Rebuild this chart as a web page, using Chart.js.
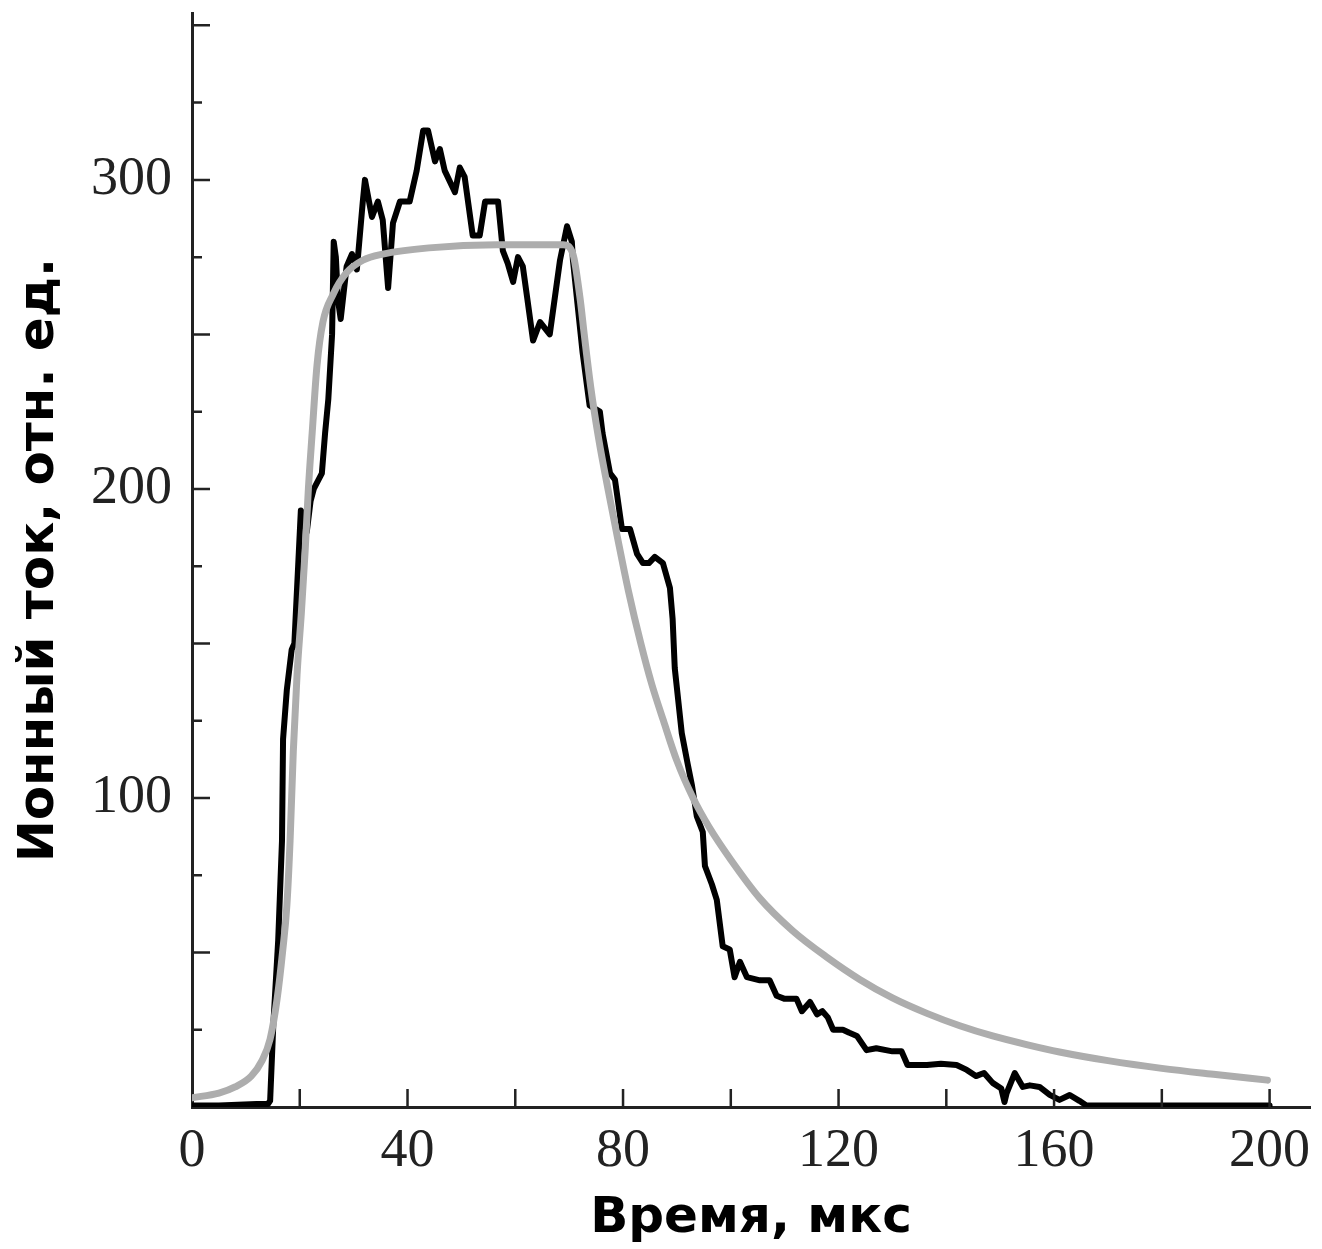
<!DOCTYPE html>
<html>
<head>
<meta charset="utf-8">
<script src="https://cdn.jsdelivr.net/npm/chart.js@4"></script>
<style>
  body { margin: 0; background: #fff; }
  #wrap { width: 1322px; height: 1249px; }
</style>
</head>
<body>
<div id="wrap"><canvas id="chartIon"></canvas></div>
<script>
// measured ion current (black)
let blackTime = [0, 5, 12, 14.1, 14.5, 15.1, 16, 16.7, 16.9, 17.6, 18.5, 19, 19.7, 20.2, 20.6, 21.3, 22, 22.6, 24.1, 24.7, 25.3, 26, 26.3, 26.7, 27.1, 27.6, 28.7, 29.7, 30.6, 31.7, 32.1, 33.4, 34.5, 35.4, 36.4, 37.3, 38.6, 40.4, 41.7, 42.9, 43.8, 45.1, 46, 46.9, 48.8, 49.7, 50.6, 52.1, 53.4, 54.4, 56.8, 57.7, 58.6, 59.6, 60.5, 61.4, 62.2, 63.3, 64.6, 66.4, 68.3, 69.6, 70.5, 70.7, 72.5, 73.8, 75.7, 76.2, 77.6, 78.5, 79.8, 81.3, 82.6, 83.7, 84.8, 85.9, 87.4, 88.7, 89.2, 89.6, 90.9, 92, 92.8, 93.7, 94.8, 95.2, 96.5, 97.4, 98.5, 99.8, 100.7, 101.7, 103, 105.4, 107.2, 108.5, 110, 112.2, 113.2, 114.7, 116, 117, 118, 119, 120.8, 122, 123.4, 125.2, 127, 130, 131.7, 132.8, 136.4, 139, 141.9, 143.8, 145.5, 147, 148.6, 150.2, 150.8, 151.2, 152.7, 154.2, 155.5, 157.3, 159.2, 161, 162.9, 164.7, 166, 200];
let blackValue = [0.5, 0.5, 1, 1, 2, 27, 54, 86, 119, 135, 148, 150, 175, 193, 192, 186, 196, 200, 205, 218, 229, 250, 280, 275, 261, 255, 272, 276, 271, 293, 300, 288, 293, 287, 265, 286, 293, 293, 303, 316, 316, 306, 310, 303, 296, 304, 301, 282, 282, 293, 293, 277, 273, 267, 275, 272, 262, 248, 254, 250, 274, 285, 280, 274, 244, 227, 225, 218, 205, 203, 187, 187, 179, 176, 176, 178, 176, 168, 158, 142, 121, 111, 104, 94, 89, 78, 72, 67, 52, 51, 42, 47, 42, 41, 41, 36, 35, 35, 31, 34, 30, 31, 29, 25, 25, 24, 23, 18.4, 19, 18, 18, 13.6, 13.6, 14, 13.6, 12, 10, 11, 7.8, 6, 1.6, 4.5, 11, 6.5, 7, 6.5, 3.9, 2.3, 3.9, 2, 0.5, 0.5];

// fitted curve (grey)
let fitTime = [0, 5, 8, 11, 13, 14.5, 15.8, 16.8, 17.6, 18.2, 18.8, 19.5, 20.3, 21, 21.6, 22.3, 23.2, 24.3, 26.2, 28.7, 31.7, 35.4, 44, 56.6, 68.9, 70.7, 72, 72.8, 74, 75.5, 77.2, 79, 81, 83.3, 85.3, 87.5, 90, 93, 96, 100, 105.4, 111.5, 117.8, 124, 130, 136.4, 142.5, 148.6, 154.9, 161, 170, 180, 190, 199.6];
let fitValue = [3, 4.5, 6.5, 10, 15, 22, 35, 50, 65, 86, 115, 140, 160, 180, 200, 218, 240, 254, 263, 270, 274, 276, 278, 279, 279, 276, 262, 250, 233, 216, 200, 184, 167, 150, 137, 125, 112, 100, 90.5, 80, 67.5, 57, 48.5, 41.2, 35.3, 30.3, 26.3, 23, 20.2, 17.8, 15, 12.5, 10.5, 8.7];

let xTicksLabelled = [0, 40, 80, 120, 160, 200];
let yTicksLabelled = [100, 200, 300];

let axisColor = '#222';
let serif = "'Liberation Serif', 'Times New Roman', serif";
let sans = "'DejaVu Sans', Verdana, sans-serif";

let toPoints = (xs, ys) => xs.map((x, i) => ({ x: x, y: ys[i] }));

// tick marks point inwards, so draw them ourselves from the scales
let innerTicks = {
  id: 'innerTicks',
  afterDraw(chart) {
    let ctx = chart.ctx, sx = chart.scales.x, sy = chart.scales.y;
    ctx.save();
    ctx.strokeStyle = axisColor;
    ctx.lineWidth = 2.5;
    ctx.beginPath();
    sx.ticks.forEach(t => {
      if (t.value === 0) return;
      let px = sx.getPixelForValue(t.value);
      ctx.moveTo(px, sy.bottom);
      ctx.lineTo(px, sy.bottom - 18);
    });
    sy.ticks.forEach(t => {
      if (t.value === 0) return;
      let py = sy.getPixelForValue(t.value);
      let len = t.value % 50 === 0 ? 18 : 10;
      ctx.moveTo(sx.left, py);
      ctx.lineTo(sx.left + len, py);
    });
    ctx.stroke();
    ctx.restore();
  }
};

let chartIon = new Chart(document.getElementById('chartIon').getContext('2d'), {
  type: 'line',
  data: {
    datasets: [{
      data: toPoints(fitTime, fitValue),
      borderColor: '#adadad',
      borderWidth: 7,
      pointRadius: 0,
      cubicInterpolationMode: 'monotone',
      borderCapStyle: 'round',
      order: 0
    }, {
      data: toPoints(blackTime, blackValue),
      borderColor: '#000',
      borderWidth: 6,
      pointRadius: 0,
      tension: 0,
      borderJoinStyle: 'round',
      borderCapStyle: 'round',
      order: 1
    }]
  },
  options: {
    responsive: true,
    maintainAspectRatio: false,
    animation: false,
    layout: { padding: { top: 13, right: 12, left: 0, bottom: 0 } },
    plugins: { legend: { display: false }, tooltip: { enabled: false } },
    scales: {
      x: {
        type: 'linear',
        min: 0,
        max: 207.5,
        afterFit: s => { s.height = 142; s.paddingLeft = 0; s.paddingRight = 0; },
        grid: { display: false, drawTicks: false },
        border: { display: true, color: axisColor, width: 3 },
        ticks: {
          stepSize: 20,
          includeBounds: false,
          maxRotation: 0,
          autoSkip: false,
          padding: 12,
          color: axisColor,
          font: { family: serif, size: 54 },
          callback: v => xTicksLabelled.includes(v) ? String(v) : ''
        },
        title: {
          display: true,
          text: 'Время, мкс',
          color: '#000',
          padding: { top: 0, bottom: 0 },
          font: { family: sans, size: 50, weight: 'bold' }
        }
      },
      y: {
        min: 0,
        max: 354,
        afterFit: s => { s.width = 192; s.paddingTop = 0; s.paddingBottom = 0; },
        grid: { display: false, drawTicks: false },
        border: { display: true, color: axisColor, width: 3 },
        ticks: {
          stepSize: 25,
          includeBounds: false,
          autoSkip: false,
          padding: 20,
          color: axisColor,
          font: { family: serif, size: 54 },
          callback: v => yTicksLabelled.includes(v) ? String(v) : ''
        },
        title: {
          display: true,
          text: 'Ионный ток, отн. ед.',
          color: '#000',
          padding: { top: 10, bottom: 0 },
          font: { family: sans, size: 50, weight: 'bold' }
        }
      }
    }
  },
  plugins: [innerTicks]
});
</script>
</body>
</html>
